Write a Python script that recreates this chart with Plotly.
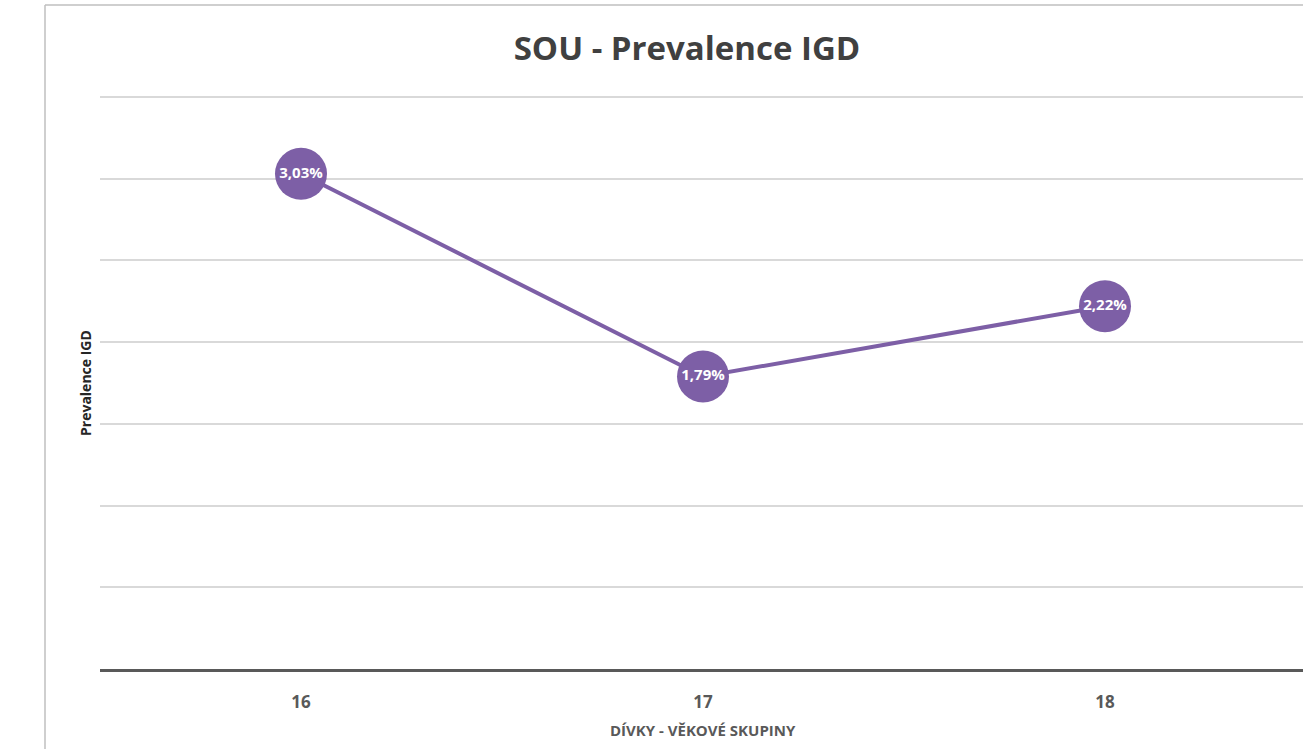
import plotly.graph_objects as go

# Prevalence of IGD among girls (SOU), by age group
ages = ["16", "17", "18"]
prevalence = [3.03, 1.79, 2.22]
labels = [f"<b>{v:.2f}%</b>".replace(".", ",") for v in prevalence]

purple = "#7d5fa6"
font_family = "Open Sans, Noto Sans, sans-serif"

# a little headroom above 3.5 so the top gridline stays visible
y_top = 3.5 + 3 / 163

fig = go.Figure()
fig.add_trace(go.Scatter(
    x=ages,
    y=prevalence,
    mode="lines+markers+text",
    line=dict(color=purple, width=4),
    marker=dict(size=52, color=purple, line=dict(width=0)),
    text=labels,
    textposition="middle center",
    textfont=dict(color="white", size=15, family=font_family),
    cliponaxis=False,
    hoverinfo="skip",
))

fig.update_layout(
    width=1303,
    height=749,
    margin=dict(l=100, r=0, t=94, b=80),
    paper_bgcolor="white",
    plot_bgcolor="white",
    showlegend=False,
    title=dict(
        text="<b>SOU - Prevalence IGD</b>",
        x=687 / 1303,
        xanchor="center",
        y=1 - 48 / 749,
        yanchor="middle",
        font=dict(size=33, color="#404040", family=font_family),
    ),
    xaxis=dict(
        type="category",
        range=[-0.5, 2.4925],
        showgrid=False,
        showline=True,
        linecolor="#595959",
        linewidth=3,
        ticks="outside",
        ticklen=16,
        tickcolor="rgba(0,0,0,0)",
        tickfont=dict(size=17, color="#595959", family=font_family),
        tickprefix="<b>",
        ticksuffix="</b>",
        zeroline=False,
    ),
    yaxis=dict(
        range=[0, y_top],
        dtick=0.5,
        showgrid=True,
        gridcolor="#d9d9d9",
        gridwidth=1.5,
        showticklabels=False,
        showline=False,
        zeroline=False,
        ticks="",
    ),
    annotations=[
        dict(
            text="<b>DÍVKY - VĚKOVÉ SKUPINY</b>",
            xref="paper", yref="paper",
            x=(703 - 100) / 1203, y=-(730 - 669) / 575,
            xanchor="center", yanchor="middle",
            showarrow=False,
            font=dict(size=15, color="#595959", family=font_family),
        ),
        dict(
            text="<b>Prevalence IGD</b>",
            xref="paper", yref="paper",
            x=-(100 - 85) / 1203, y=(669 - 383) / 575,
            xanchor="center", yanchor="middle",
            textangle=-90,
            showarrow=False,
            font=dict(size=14, color="#262626", family=font_family),
        ),
    ],
    shapes=[
        # chart frame (left and top edges)
        dict(type="line", xref="paper", yref="paper",
             x0=-(100 - 45) / 1203, x1=-(100 - 45) / 1203,
             y0=-0.2, y1=(669 - 5) / 575,
             line=dict(color="#bfbfbf", width=1.5)),
        dict(type="line", xref="paper", yref="paper",
             x0=-(100 - 45) / 1203, x1=1.05,
             y0=(669 - 5) / 575, y1=(669 - 5) / 575,
             line=dict(color="#bfbfbf", width=1.5)),
    ],
)

fig.write_html("out.html")
